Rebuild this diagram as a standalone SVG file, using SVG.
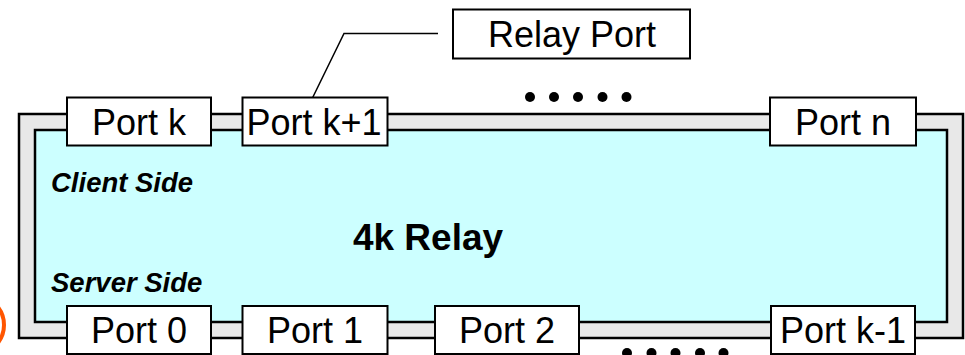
<svg xmlns="http://www.w3.org/2000/svg" width="965" height="355" viewBox="0 0 965 355">
<style>
.frame{fill:#e8e8e8;stroke:#000;stroke-width:2.5}
.body{fill:#ccffff;stroke:#000;stroke-width:2.5}
.port{fill:#fff;stroke:#000;stroke-width:2}
.pt{font-family:"Liberation Sans",Arial,sans-serif;font-size:36px;fill:#000;text-anchor:middle}
.side{font-family:"Liberation Sans",Arial,sans-serif;font-size:27.5px;font-weight:bold;font-style:italic;fill:#000}
.title{font-family:"Liberation Sans",Arial,sans-serif;font-size:37px;font-weight:bold;fill:#000;text-anchor:middle}
.dot{fill:#000}
.lead{fill:none;stroke:#000;stroke-width:1.5}
</style>
<circle cx="-25" cy="325" r="29" fill="none" stroke="#ff5500" stroke-width="4"/>
<g id="relay">
<rect class="frame" x="19" y="114" width="944" height="224"/>
<rect class="body" x="35" y="130" width="912" height="192"/>
<text class="side" x="51" y="191.5">Client Side</text>
<text class="side" x="51" y="291.5">Server Side</text>
<text class="title" x="428" y="250">4k Relay</text>
</g>
<g id="connectors">
<polyline class="lead" points="438,33.5 344,33.5 310,103"/>
</g>
<g id="port-k"><rect class="port" x="67" y="97.5" width="144" height="48"/><text class="pt" x="139" y="134.5">Port k</text></g>
<g id="port-k1"><rect class="port" x="242.5" y="97.5" width="145" height="48"/><text class="pt" x="314" y="134.5">Port k+1</text></g>
<g id="port-n"><rect class="port" x="770" y="97.5" width="146" height="48"/><text class="pt" x="843" y="134.5">Port n</text></g>
<g id="port-0"><rect class="port" x="67" y="306" width="144" height="48"/><text class="pt" x="139" y="342.5">Port 0</text></g>
<g id="port-1"><rect class="port" x="242.5" y="306" width="145" height="48"/><text class="pt" x="315" y="342.5">Port 1</text></g>
<g id="port-2"><rect class="port" x="435" y="306" width="144" height="48"/><text class="pt" x="507" y="342.5">Port 2</text></g>
<g id="port-km1"><rect class="port" x="771" y="306" width="144" height="48"/><text class="pt" x="843" y="342.5">Port k-1</text></g>
<g id="relay-port"><rect class="port" x="453" y="9.5" width="237" height="49"/><text class="pt" x="572" y="46.5">Relay Port</text></g>
<g id="dots-top">
<circle class="dot" cx="530" cy="97" r="5"/><circle class="dot" cx="554" cy="97" r="5"/><circle class="dot" cx="578" cy="97" r="5"/><circle class="dot" cx="602.5" cy="97" r="5"/><circle class="dot" cx="626.5" cy="97" r="5"/>
</g>
<g id="dots-bottom">
<circle class="dot" cx="627" cy="353" r="5"/><circle class="dot" cx="651.5" cy="353" r="5"/><circle class="dot" cx="675.5" cy="353" r="5"/><circle class="dot" cx="700" cy="353" r="5"/><circle class="dot" cx="723.5" cy="353" r="5"/>
</g>
</svg>
